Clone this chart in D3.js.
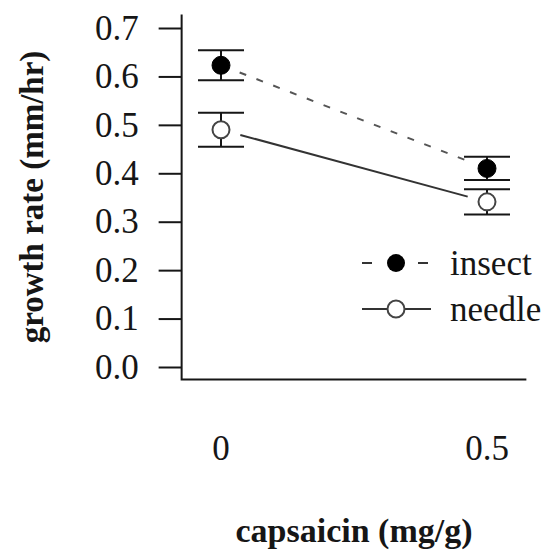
<!DOCTYPE html>
<html><head><meta charset="utf-8">
<script src="https://cdn.jsdelivr.net/npm/d3@7"></script>
<style>html,body{margin:0;padding:0;background:#fff;}svg{display:block;}</style>
</head><body><svg id="c" width="551" height="560"></svg>
<script>
const doses = [0, 0.5];
const doseLabels = ["0", "0.5"];
const insectMean = [0.623, 0.41];
const insectSE = [0.031, 0.024];
const needleMean = [0.49, 0.341];
const needleSE = [0.035, 0.026];
const yTicks = [0, 0.1, 0.2, 0.3, 0.4, 0.5, 0.6, 0.7];
const seriesNames = ["insect", "needle"];

const svg = d3.select("#c");
const font = "Liberation Serif, serif";
const ink = "#161616";
const x = d3.scaleLinear().domain([0, 0.5]).range([221, 487]);
const y = d3.scaleLinear().domain([0, 0.7]).range([367, 28]);
const xr = [-0.074, 0.574], yr = [-0.026, 0.728];

// L-shaped box
svg.append("path")
  .attr("d", `M${x(xr[0])},${y(yr[1])}V${y(yr[0])}H${x(xr[1])}`)
  .attr("fill", "none").attr("stroke", ink).attr("stroke-width", 2);

// y axis ticks and labels
const yAxis = d3.axisLeft(y).tickValues(yTicks).tickSize(23).tickPadding(20)
  .tickFormat(d3.format(".1f"));
const ga = svg.append("g").attr("transform", `translate(${x(xr[0])},0)`).call(yAxis);
ga.select(".domain").remove();
ga.selectAll("line").attr("stroke", ink).attr("stroke-width", 2);
ga.selectAll("text").style("font-family", font).style("font-size", "35px").attr("fill", ink);

// x labels
svg.append("g").selectAll("text").data(doses).join("text")
  .attr("x", d => x(d)).attr("y", 460).attr("text-anchor", "middle")
  .style("font-family", font).style("font-size", "35px").attr("fill", ink)
  .text((d, i) => doseLabels[i]);

// axis titles
svg.append("text").attr("x", (x(xr[0]) + x(xr[1])) / 2).attr("y", 542)
  .attr("text-anchor", "middle").style("font-family", font).style("font-size", "34px")
  .style("font-weight", "bold").attr("fill", ink).text("capsaicin (mg/g)");
svg.append("text")
  .attr("transform", `translate(43,${(y(yr[0]) + y(yr[1])) / 2}) rotate(-90)`)
  .attr("text-anchor", "middle").style("font-family", font).style("font-size", "33px")
  .style("font-weight", "bold").attr("fill", ink).text("growth rate (mm/hr)");

// connecting lines with gaps around points
function gappedLine(means, dash) {
  const x0 = x(doses[0]), y0 = y(means[0]), x1 = x(doses[1]), y1 = y(means[1]);
  const len = Math.hypot(x1 - x0, y1 - y0), g = 20;
  const ux = (x1 - x0) / len, uy = (y1 - y0) / len;
  svg.append("line")
    .attr("x1", x0 + ux * g).attr("y1", y0 + uy * g)
    .attr("x2", x1 - ux * g).attr("y2", y1 - uy * g)
    .attr("stroke", dash ? "#555" : "#333").attr("stroke-width", 2)
    .attr("stroke-dasharray", dash ? "7,11" : null);
}
gappedLine(insectMean, true);
gappedLine(needleMean, false);

// error bars
function errorBars(means, se) {
  const g = svg.append("g").attr("stroke", ink).attr("stroke-width", 2);
  doses.forEach((d, i) => {
    const cx = x(d), top = y(means[i] + se[i]), bot = y(means[i] - se[i]);
    g.append("line").attr("x1", cx).attr("x2", cx).attr("y1", top).attr("y2", bot);
    g.append("line").attr("x1", cx - 23).attr("x2", cx + 23).attr("y1", top).attr("y2", top);
    g.append("line").attr("x1", cx - 23).attr("x2", cx + 23).attr("y1", bot).attr("y2", bot);
  });
}
errorBars(insectMean, insectSE);
errorBars(needleMean, needleSE);

// points
svg.append("g").selectAll("circle").data(doses).join("circle")
  .attr("cx", d => x(d)).attr("cy", (d, i) => y(insectMean[i])).attr("r", 9)
  .attr("fill", "#000").attr("stroke", "#000").attr("stroke-width", 1);
svg.append("g").selectAll("circle").data(doses).join("circle")
  .attr("cx", d => x(d)).attr("cy", (d, i) => y(needleMean[i])).attr("r", 8.5)
  .attr("fill", "#fff").attr("stroke", "#444").attr("stroke-width", 2);

// legend
const lg = svg.append("g");
const ly = [263, 309];
lg.append("line").attr("x1", 362).attr("x2", 372).attr("y1", ly[0]).attr("y2", ly[0])
  .attr("stroke", "#333").attr("stroke-width", 2);
lg.append("line").attr("x1", 418).attr("x2", 428).attr("y1", ly[0]).attr("y2", ly[0])
  .attr("stroke", "#333").attr("stroke-width", 2);
lg.append("circle").attr("cx", 396).attr("cy", ly[0]).attr("r", 9).attr("fill", "#000");
lg.append("line").attr("x1", 362).attr("x2", 431).attr("y1", ly[1]).attr("y2", ly[1])
  .attr("stroke", "#333").attr("stroke-width", 2);
lg.append("circle").attr("cx", 396).attr("cy", ly[1]).attr("r", 8.5)
  .attr("fill", "#fff").attr("stroke", "#444").attr("stroke-width", 2);
lg.selectAll("text").data(seriesNames).join("text")
  .attr("x", 450).attr("y", (d, i) => ly[i]).attr("dy", "0.33em")
  .style("font-family", font).style("font-size", "35px").attr("fill", ink).text(d => d);
</script>
</body></html>
